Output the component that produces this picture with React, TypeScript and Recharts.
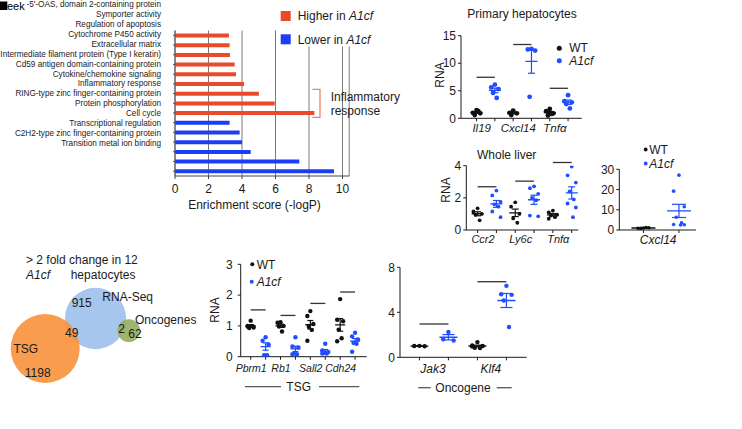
import React from 'react';
import {
  BarChart, Bar, XAxis, YAxis, CartesianGrid, Cell,
  ScatterChart, Scatter, ErrorBar, ReferenceLine, ZAxis,
} from 'recharts';

const FONT = '"Liberation Sans", Arial, Helvetica, sans-serif';
const INK = '#1a1a1a';
const RED = '#e84a2a';
const BAR_BLUE = '#1c3cf6';
const DOT_BLACK = '#111111';
const DOT_BLUE = '#1f4dff';

// ---------- Panel A: enrichment ----------
const termNames = [
  "2'-5'-OAS, domain 2-containing protein",
  'Symporter activity',
  'Regulation of apoptosis',
  'Cytochrome P450 activity',
  'Extracellular matrix',
  'Intermediate filament protein (Type I keratin)',
  'Cd59 antigen domain-containing protein',
  'Cytokine/chemokine signaling',
  'Inflammatory response',
  'RING-type zinc finger-containing protein',
  'Protein phosphorylation',
  'Cell cycle',
  'Transcriptional regulation',
  'C2H2-type zinc finger-containing protein',
  'Transition metal ion binding',
];
const termScores = [3.22, 3.26, 3.28, 3.56, 3.64, 4.12, 5.01, 5.95, 8.32, 3.26, 3.86, 4.0, 4.52, 7.42, 9.49];
const termGroup = ['Higher', 'Higher', 'Higher', 'Higher', 'Higher', 'Higher', 'Higher', 'Higher', 'Higher',
  'Lower', 'Lower', 'Lower', 'Lower', 'Lower', 'Lower'];
const enrichTicks = [0, 2, 4, 6, 8, 10];

// ---------- Panel B: primary hepatocytes ----------
const hepGenes = ['Il19', 'Cxcl14', 'Tnfα'];
const hepWT = [[1.5, 1.0, 0.9, 0.6, 1.3], [1.4, 1.0, 0.9, 0.6], [1.7, 1.3, 0.9, 0.5, 0.8]];
const hepA1cf = [[6.1, 5.6, 5.3, 4.6, 3.7], [12.6, 12.5, 12.3, 3.9], [4.2, 3.1, 2.9, 2.6, 1.8]];
const hepSig = [7.45, 13.4, 5.45];
const hepTicks = [0, 5, 10, 15];

// ---------- Panel C: whole liver ----------
const liverGenes = ['Ccr2', 'Ly6c', 'Tnfα'];
const liverWT = [[1.35, 1.15, 1.0, 0.95, 0.6], [1.72, 1.45, 1.0, 0.72, 0.45], [1.2, 1.1, 0.95, 0.9, 0.8, 0.7]];
const liverA1cf = [[2.45, 2.15, 1.75, 1.6, 1.45, 1.15, 0.8], [2.72, 2.6, 2.25, 2.0, 1.85, 0.9, 0.85],
  [3.95, 3.4, 2.95, 2.4, 1.9, 1.65, 1.4, 0.8]];
const liverSig = [2.69, 3.04, 4.2];
const liverTicks = [0, 2, 4];

// ---------- Panel D: whole liver Cxcl14 ----------
const cxclGenes = ['Cxcl14'];
const cxclWT = [[1.0, 0.9, 1.1, 0.8, 1.2]];
const cxclA1cf = [[27.1, 19.2, 11.5, 6.3, 3.6, 2.7, 2.6, 2.5]];
const cxclSig: number[] = [];
const cxclTicks = [0, 10, 20, 30];

// ---------- Panel F: TSG ----------
const tsgGenes = ['Pbrm1', 'Rb1', 'Sall2', 'Cdh24'];
const tsgWT = [[1.17, 1.0, 0.95, 0.93, 1.0, 0.98], [1.12, 1.1, 1.0, 0.98, 0.82], [1.48, 1.32, 1.06, 0.97, 0.87, 0.52],
  [1.87, 1.2, 1.15, 0.88, 0.6, 0.5]];
const tsgA1cf = [[0.63, 0.52, 0.4, 0.05, 0.05], [0.63, 0.33, 0.3, 0.1, 0.08, 0.08], [0.42, 0.2, 0.15, 0.12, 0.1, 0.1],
  [0.78, 0.66, 0.56, 0.45, 0.42, 0.16]];
const tsgSig = [1.52, 1.34, 1.73, 2.1];
const tsgTicks = [0, 1, 2, 3];

// ---------- Panel G: oncogenes ----------
const oncoGenes = ['Jak3', 'Klf4'];
const oncoWT = [[1.02, 1.0, 0.98], [1.35, 1.05, 1.0, 0.85, 0.82, 0.95]];
const oncoA1cf = [[2.25, 1.6, 1.5], [6.35, 5.6, 5.55, 5.05, 2.7]];
const oncoSig = [2.96, 6.72];
const oncoTicks = [0, 4, 8];

// ---------- Panel E: Venn ----------
const vennSets = ['RNA-Seq', 'TSG', 'Oncogenes'];
const vennSetSizes = [966, 1247, 64];
const vennRegionLabels = ['915', '49', '2', '62', '1198'];

// layout (not data)
const VENN_CENTERS = [[95.5, 318.5], [45.2, 348.5], [128.8, 330.7]];
const VENN_COLORS = ['#a6c6ee', '#f8913a', '#93ab58'];
const VENN_OPACITY = [1, 0.9, 0.88];
const VENN_LABEL_POS = [[81.7, 302.3], [71.7, 332.3], [121.7, 329], [135, 333.3], [37.7, 372.3]];

const mean = (a: number[]) => a.reduce((s, v) => s + v, 0) / a.length;
const sem = (a: number[]) => {
  const m = mean(a);
  const v = a.reduce((s, x) => s + (x - m) ** 2, 0) / (a.length - 1);
  return Math.sqrt(v / a.length);
};
const JITTER = [0, -1, 1, -0.5, 0.5, -1, 1, 0.3];

type PanelProps = {
  left: number; top: number; width: number; height: number;
  yw: number; mt: number; mr: number; xh: number;
  xDomain: [number, number]; yDomain: [number, number]; yTicks: number[];
  genes: string[]; wt: number[][]; ko: number[][]; sig: number[];
  dotR: number; meanW: number; capW: number; spread: number;
  labelFs: number; labelDx: number; labelMargin: number; yTickMargin: number;
};

function DotPanel(p: PanelProps) {
  const wtPts: any[] = [];
  const koPts: any[] = [];
  const wtMean: any[] = [];
  const koMean: any[] = [];
  p.genes.forEach((_, gi) => {
    const xw = gi * 2;
    const xk = gi * 2 + 1;
    p.wt[gi].forEach((v, i) => wtPts.push({ x: xw + JITTER[i % JITTER.length] * p.spread, y: v }));
    p.ko[gi].forEach((v, i) => koPts.push({ x: xk + JITTER[i % JITTER.length] * p.spread, y: v }));
    wtMean.push({ x: xw, y: mean(p.wt[gi]), err: sem(p.wt[gi]) });
    koMean.push({ x: xk, y: mean(p.ko[gi]), err: sem(p.ko[gi]) });
  });
  const xTicks = p.genes.flatMap((_, gi) => [gi * 2, gi * 2 + 1]);
  const plotW = p.width - p.yw - p.mr;
  const unitPx = plotW / (p.xDomain[1] - p.xDomain[0]);
  const GeneTick = (t: any) => {
    const v = t.payload.value;
    if (v % 2 !== 1) return <g />;
    const gi = (v - 1) / 2;
    return (
      <text x={t.x - unitPx / 2 + p.labelDx} y={t.y} dy="0.71em" textAnchor="middle" fontStyle="italic"
        fontSize={p.labelFs} fill={INK} fontFamily={FONT}>{p.genes[gi]}</text>
    );
  };
  const dot = (color: string) => (s: any) => <circle cx={s.cx} cy={s.cy} r={p.dotR} fill={color} />;
  const meanLine = (color: string) => (s: any) => (
    <line x1={s.cx - p.meanW / 2} x2={s.cx + p.meanW / 2} y1={s.cy} y2={s.cy} stroke={color} strokeWidth={1.3} />
  );
  return (
    <div style={{ position: 'absolute', left: p.left, top: p.top }}>
      <ScatterChart width={p.width} height={p.height} margin={{ top: p.mt, right: p.mr, bottom: 0, left: 0 }}>
        <XAxis type="number" dataKey="x" domain={p.xDomain} ticks={xTicks} interval={0} allowDataOverflow
          height={p.xh} tickSize={3} tickMargin={p.labelMargin} stroke={INK} tick={GeneTick} />
        <YAxis type="number" dataKey="y" domain={p.yDomain} ticks={p.yTicks} interval={0} allowDataOverflow
          width={p.yw} tickSize={3} tickMargin={p.yTickMargin} stroke={INK}
          tick={{ fontSize: 12, fill: INK, fontFamily: FONT }} />
        {p.sig.map((h, gi) => (
          <ReferenceLine key={gi} segment={[{ x: gi * 2, y: h }, { x: gi * 2 + 1, y: h }]}
            stroke="#333" strokeWidth={1.3} ifOverflow="visible" />
        ))}
        <Scatter data={wtPts} shape={dot(DOT_BLACK)} isAnimationActive={false} />
        <Scatter data={koPts} shape={dot(DOT_BLUE)} isAnimationActive={false} />
        <Scatter data={wtMean} shape={meanLine(DOT_BLACK)} isAnimationActive={false}>
          <ErrorBar dataKey="err" direction="y" width={p.capW} stroke={DOT_BLACK} strokeWidth={1.2}
            isAnimationActive={false} />
        </Scatter>
        <Scatter data={koMean} shape={meanLine(DOT_BLUE)} isAnimationActive={false}>
          <ErrorBar dataKey="err" direction="y" width={p.capW} stroke={DOT_BLUE} strokeWidth={1.2}
            isAnimationActive={false} />
        </Scatter>
      </ScatterChart>
    </div>
  );
}

const LABEL_TOP = 4;
const LABEL_STEP = 9.95;

function EnrichmentPanel() {
  const rows = termNames.map((name, i) => ({ name, score: termScores[i], group: termGroup[i] }));
  const TermTick = (t: any) => {
    const idx = termNames.indexOf(t.payload.value);
    return (
      <text x={t.x} y={LABEL_TOP + idx * LABEL_STEP} dy="0.35em" textAnchor="end" fontSize={8.2}
        fill="#222" fontFamily={FONT}>{t.payload.value}</text>
    );
  };
  return (
    <div style={{ position: 'absolute', left: 0, top: 0 }}>
      <BarChart layout="vertical" width={360} height={215} data={rows}
        margin={{ top: 30.5, right: 10.8, bottom: 0, left: 0 }}>
        <CartesianGrid horizontal={false} stroke="#7a7a7a" />
        <XAxis type="number" domain={[0, 10.4]} ticks={enrichTicks} interval={0} allowDataOverflow height={39}
          tickSize={3} tickMargin={5} stroke="#444" tick={{ fontSize: 12, fill: INK, fontFamily: FONT }} />
        <YAxis type="category" dataKey="name" width={175} tickSize={2} tickMargin={12} stroke="#555"
          interval={0} tick={TermTick} />
        <Bar dataKey="score" barSize={4} isAnimationActive={false}>
          {rows.map((r, i) => <Cell key={i} fill={r.group === 'Higher' ? RED : BAR_BLUE} />)}
        </Bar>
      </BarChart>
    </div>
  );
}

function VennPanel() {
  const data = vennSets.map((name, i) => ({ name, x: VENN_CENTERS[i][0], y: VENN_CENTERS[i][1], z: vennSetSizes[i] }));
  return (
    <div style={{ position: 'absolute', left: 0, top: 280 }}>
      <ScatterChart width={160} height={120} margin={{ top: 0, right: 0, bottom: 0, left: 0 }}>
        <XAxis type="number" dataKey="x" domain={[0, 160]} hide allowDataOverflow />
        <YAxis type="number" dataKey="y" domain={[280, 400]} reversed hide allowDataOverflow />
        <ZAxis type="number" dataKey="z" domain={[0, 1247]} range={[228, 3739]} />
        <Scatter data={data} isAnimationActive={false} shape="circle">
          {data.map((_, i) => <Cell key={i} fill={VENN_COLORS[i]} fillOpacity={VENN_OPACITY[i]} />)}
        </Scatter>
      </ScatterChart>
    </div>
  );
}

function Overlay() {
  const T = { fontSize: 12, fill: INK, fontFamily: FONT } as any;
  return (
    <svg width={742} height={429} style={{ position: 'absolute', left: 0, top: 0, pointerEvents: 'none' }}>
      {/* top-left artifact */}
      <rect x={0} y={0} width={27} height={11} fill="#fff" />
      <text x={0.3} y={10} fontSize={11} fill="#000" fontFamily={FONT}><tspan fontSize={7}>W</tspan>eek</text>
      <rect x={0} y={1.5} width={7.3} height={8.5} fill="#000" />

      {/* Panel A legend */}
      <rect x={279} y={0} width={100} height={46.5} fill="#fff" />
      <rect x={280.7} y={11} width={10} height={10} fill={RED} />
      <text x={297.7} y={20} {...T}>Higher in <tspan fontStyle="italic">A1cf</tspan></text>
      <rect x={280.7} y={34.3} width={10} height={10} fill={BAR_BLUE} />
      <text x={297.7} y={43.6} {...T}>Lower in <tspan fontStyle="italic">A1cf</tspan></text>
      <polyline points="312.3,89.3 320,89.3 320,117.3 312.3,117.3" fill="none" stroke="#f0806a" strokeWidth={1.3} />
      <text x={330.7} y={101} {...T}>Inflammatory</text>
      <text x={330.7} y={115} {...T}>response</text>
      <text x={254.5} y={209.3} textAnchor="middle" {...T}>Enrichment score (-logP)</text>

      {/* Panel B */}
      <text x={522} y={18.3} textAnchor="middle" {...T}>Primary hepatocytes</text>
      <text transform="translate(439.3,75) rotate(-90)" textAnchor="middle" dy="0.35em" {...T}>RNA</text>
      <circle cx={559.3} cy={48.3} r={2.5} fill={DOT_BLACK} />
      <text x={569.3} y={52.3} {...T}>WT</text>
      <circle cx={559.3} cy={60.7} r={2.5} fill={DOT_BLUE} />
      <text x={569.3} y={65.2} fontStyle="italic" {...T}>A1cf</text>

      {/* Panel C */}
      <text x={506.7} y={159.3} textAnchor="middle" {...T}>Whole liver</text>
      <text transform="translate(445.7,190) rotate(-90)" textAnchor="middle" dy="0.35em" {...T}>RNA</text>

      {/* Panel D legend */}
      <circle cx={645.7} cy={149.5} r={1.9} fill={DOT_BLACK} />
      <text x={649.3} y={153.8} {...T}>WT</text>
      <circle cx={645.7} cy={163.5} r={1.9} fill={DOT_BLUE} />
      <text x={649.3} y={167.8} fontStyle="italic" {...T}>A1cf</text>

      {/* Venn text */}
      <text x={26} y={264.3} {...T}>&gt; 2 fold change in 12</text>
      <text x={26} y={278.6} fontStyle="italic" {...T}>A1cf</text>
      <text x={70.7} y={278.6} {...T}>hepatocytes</text>
      <text x={102.3} y={301} {...T}>RNA-Seq</text>
      <text x={135} y={324.3} {...T}>Oncogenes</text>
      <text x={25.8} y={352.6} textAnchor="middle" {...T}>TSG</text>
      {vennRegionLabels.map((l, i) => (
        <text key={i} x={VENN_LABEL_POS[i][0]} y={VENN_LABEL_POS[i][1] + 4.3} textAnchor="middle" {...T}>{l}</text>
      ))}

      {/* Panel F */}
      <text transform="translate(215,310) rotate(-90)" textAnchor="middle" dy="0.35em" {...T}>RNA</text>
      <circle cx={252.3} cy={264.3} r={2} fill={DOT_BLACK} />
      <text x={256.7} y={268.6} {...T}>WT</text>
      <circle cx={251.7} cy={281.7} r={2} fill={DOT_BLUE} />
      <text x={256.7} y={286} fontStyle="italic" {...T}>A1cf</text>
      <line x1={245} x2={281} y1={386.7} y2={386.7} stroke="#555" strokeWidth={1.3} />
      <line x1={319} x2={359.3} y1={386.7} y2={386.7} stroke="#555" strokeWidth={1.3} />
      <text x={298.7} y={391} textAnchor="middle" {...T}>TSG</text>

      {/* Panel G */}
      <line x1={418.3} x2={430.7} y1={387.7} y2={387.7} stroke="#555" strokeWidth={1.3} />
      <line x1={496.7} x2={511.7} y1={387.7} y2={387.7} stroke="#555" strokeWidth={1.3} />
      <text x={463} y={392} textAnchor="middle" {...T}>Oncogene</text>
    </svg>
  );
}

export default function App() {
  return (
    <div style={{ position: 'absolute', left: 0, top: 0, width: 742, height: 429, overflow: 'hidden', background: '#fff', fontFamily: FONT }}>
      <EnrichmentPanel />
      <VennPanel />
      <DotPanel left={400} top={0} width={190} height={140} yw={61} mt={35.7} mr={8.2} xh={21.7}
        xDomain={[-0.85, 5.75]} yDomain={[0, 15]} yTicks={hepTicks}
        genes={hepGenes} wt={hepWT} ko={hepA1cf} sig={hepSig}
        dotR={2.4} meanW={12} capW={3.5} spread={0.2} labelFs={11.5} labelDx={-4} labelMargin={3} yTickMargin={2} />
      <DotPanel left={400} top={140} width={185} height={110} yw={66.3} mt={25.7} mr={6.7} xh={20}
        xDomain={[-0.6, 5.35]} yDomain={[0, 4]} yTicks={liverTicks}
        genes={liverGenes} wt={liverWT} ko={liverA1cf} sig={liverSig}
        dotR={1.9} meanW={12} capW={3.5} spread={0.22} labelFs={11} labelDx={-4} labelMargin={2.3} yTickMargin={2} />
      <DotPanel left={580} top={130} width={120} height={120} yw={39.3} mt={39.3} mr={4} xh={20}
        xDomain={[-0.68, 1.48]} yDomain={[0, 30]} yTicks={cxclTicks}
        genes={cxclGenes} wt={cxclWT} ko={cxclA1cf} sig={cxclSig}
        dotR={1.8} meanW={24} capW={7} spread={0.15} labelFs={12} labelDx={-3} labelMargin={2.3} yTickMargin={2} />
      <DotPanel left={200} top={250} width={175} height={130} yw={40.7} mt={14.3} mr={8.3} xh={23.3}
        xDomain={[-0.67, 7.78]} yDomain={[0, 3]} yTicks={tsgTicks}
        genes={tsgGenes} wt={tsgWT} ko={tsgA1cf} sig={tsgSig}
        dotR={2.2} meanW={10} capW={3} spread={0.2} labelFs={10.5} labelDx={-7} labelMargin={5} yTickMargin={5} />
      <DotPanel left={370} top={250} width={165} height={130} yw={30} mt={17.3} mr={8.3} xh={22.7}
        xDomain={[-0.67, 3.7]} yDomain={[0, 8]} yTicks={oncoTicks}
        genes={oncoGenes} wt={oncoWT} ko={oncoA1cf} sig={oncoSig}
        dotR={2.2} meanW={18} capW={6} spread={0.18} labelFs={12} labelDx={-1} labelMargin={3.7} yTickMargin={2} />
      <Overlay />
    </div>
  );
}
